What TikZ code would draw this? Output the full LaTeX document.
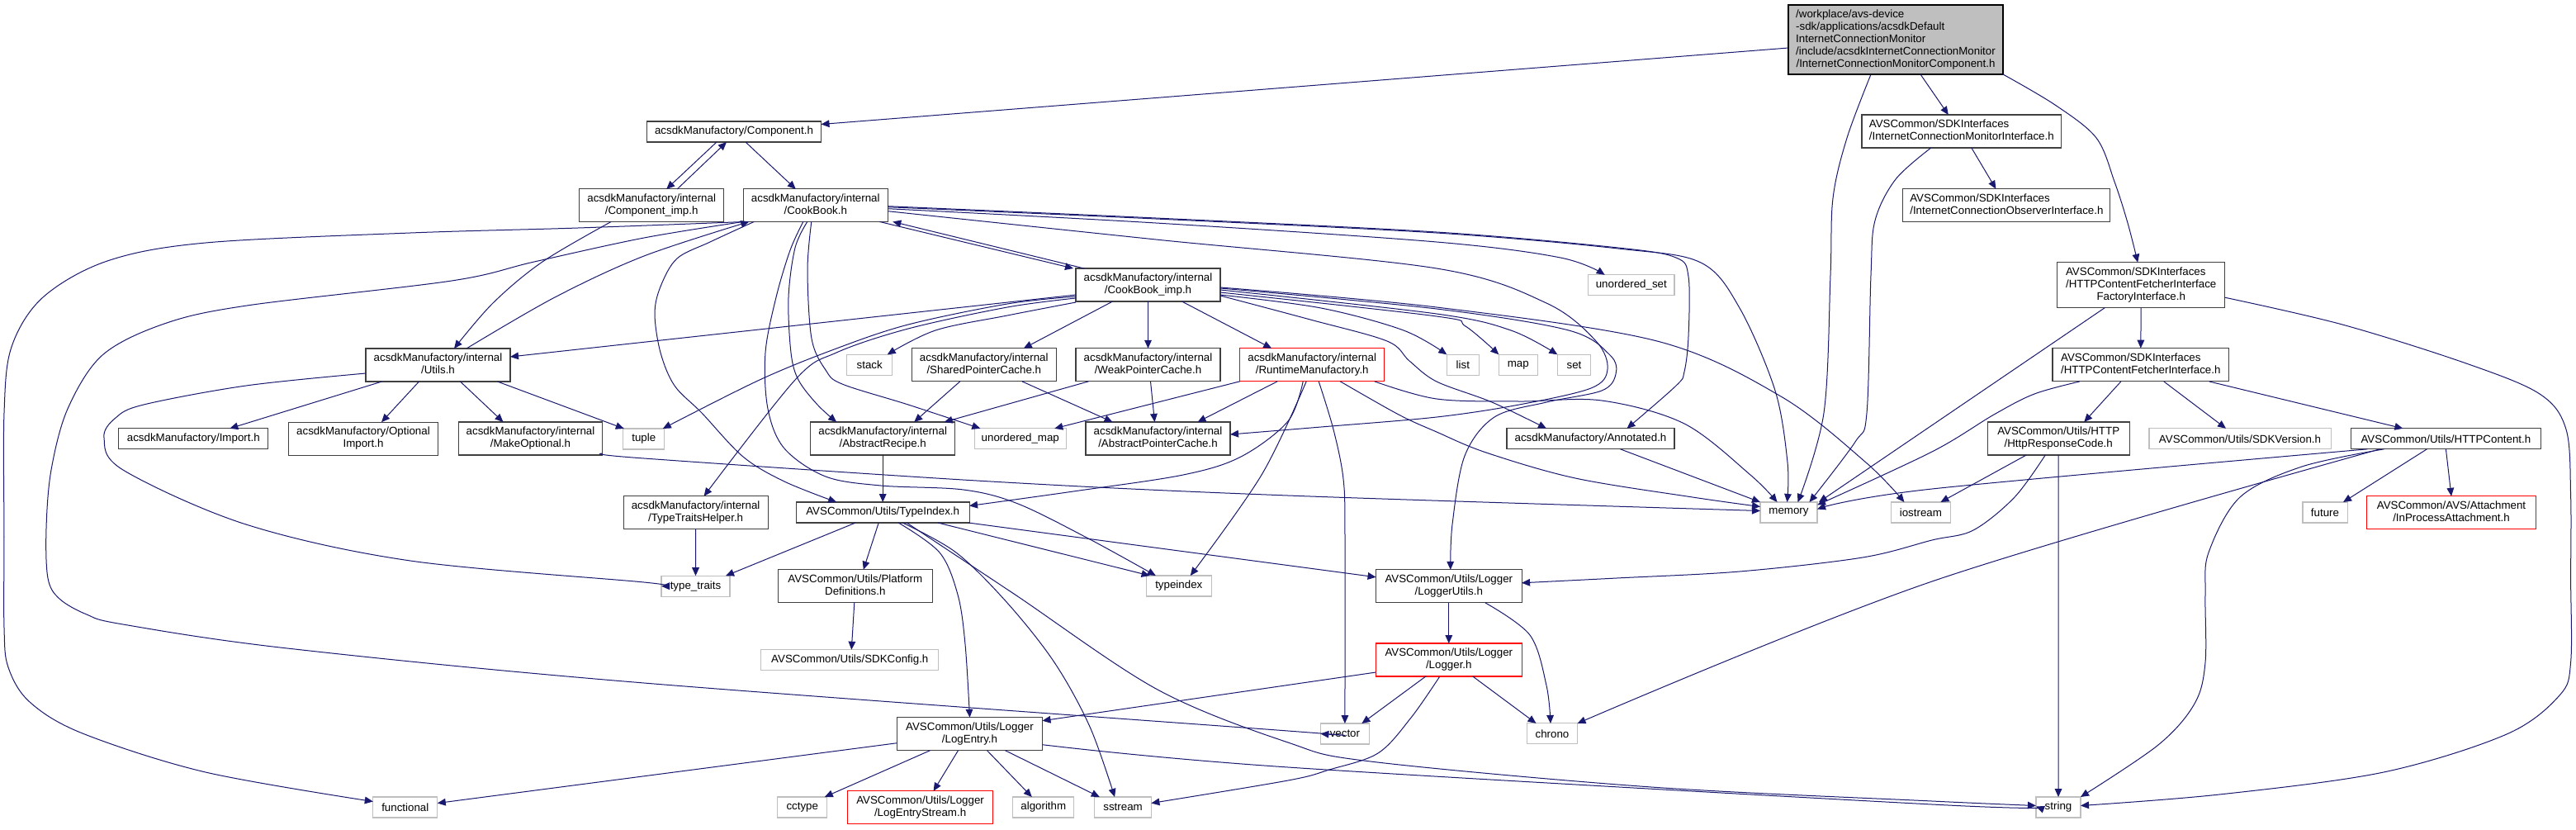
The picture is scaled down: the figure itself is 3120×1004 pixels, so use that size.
\documentclass[tikz,border=0pt]{standalone}
\usepackage{fontspec}
\setmainfont{Liberation Sans}
\usetikzlibrary{arrows.meta,calc}
\definecolor{edgeblue}{HTML}{191970}
\definecolor{lgray}{HTML}{BFBFBF}
\definecolor{dgray}{HTML}{404040}
\newcommand{\ml}[2]{\begin{tabular}{@{}l@{}}#1\\\multicolumn{1}{@{}c@{}}{#2}\end{tabular}}
\begin{document}
\begin{tikzpicture}[x=0.75pt,y=-0.75pt,
  font=\fontsize{10}{11.25}\selectfont,
  box/.style={draw=dgray,line width=0.8pt,fill=white,inner sep=0pt,outer sep=0pt},
  sys/.style={box,draw=lgray},
  trunc/.style={box,draw=red},
  mainbox/.style={box,draw=black,fill=lgray},
  wh/.style 2 args={minimum width=#1*0.75pt,minimum height=#2*0.75pt},
  e/.style={draw=edgeblue,line width=0.75pt,-{Triangle[length=7.5pt,width=6.5pt]}},
  sm/.style={smooth,tension=0.55}]
\fill[white] (0,0) rectangle (3120,1004);
\useasboundingbox (0,0) rectangle (3120,1004);
% nodes
\node[mainbox,wh={260}{84}] (root) at (2296,48) {\ml{/workplace/avs-device\\-sdk/applications/acsdkDefault\\InternetConnectionMonitor\\/include/acsdkInternetConnectionMonitor}{/InternetConnectionMonitorComponent.h}};
\node[box,wh={211}{25}] (comp) at (889,159.5) {acsdkManufactory/Component.h};
\node[box,wh={175}{39.5}] (compimp) at (789.2,248.7) {\ml{acsdkManufactory/internal}{/Component\_imp.h}};
\node[box,wh={175}{39.5}] (cookbook) at (987.8,248.7) {\ml{acsdkManufactory/internal}{/CookBook.h}};
\node[box,wh={175}{40}] (cbi) at (1390.5,345) {\ml{acsdkManufactory/internal}{/CookBook\_imp.h}};
\node[box,wh={241.7}{40}] (icmi) at (2375.8,159) {\ml{AVSCommon/SDKInterfaces}{/InternetConnectionMonitorInterface.h}};
\node[box,wh={251}{39.5}] (icoi) at (2430.4,248.5) {\ml{AVSCommon/SDKInterfaces}{/InternetConnectionObserverInterface.h}};
\node[box,wh={203}{55}] (factory) at (2593.2,345.2) {\ml{AVSCommon/SDKInterfaces\\/HTTPContentFetcherInterface}{FactoryInterface.h}};
\node[box,wh={213.7}{40.3}] (fetcher) at (2592.8,441.8) {\ml{AVSCommon/SDKInterfaces}{/HTTPContentFetcherInterface.h}};
\node[box,wh={175}{40}] (utils) at (530.5,442) {\ml{acsdkManufactory/internal}{/Utils.h}};
\node[sys,wh={55}{25}] (stack) at (1053.2,441.8) {stack};
\node[box,wh={175}{40}] (spc) at (1191.8,441.8) {\ml{acsdkManufactory/internal}{/SharedPointerCache.h}};
\node[box,wh={175}{40}] (wpc) at (1390.5,441.8) {\ml{acsdkManufactory/internal}{/WeakPointerCache.h}};
\node[trunc,wh={175}{40}] (rm) at (1589.2,441.8) {\ml{acsdkManufactory/internal}{/RuntimeManufactory.h}};
\node[sys,wh={39}{25}] (list) at (1771.8,441.8) {list};
\node[sys,wh={47}{25}] (map) at (1838.8,441.8) {map};
\node[sys,wh={40.4}{25}] (set) at (1906.5,441.8) {set};
\node[sys,wh={104.3}{25}] (uset) at (1975.8,345.3) {unordered\_set};
\node[box,wh={181}{25}] (import) at (234.3,531.3) {acsdkManufactory/Import.h};
\node[box,wh={180.5}{40}] (optimport) at (440,531.2) {\ml{acsdkManufactory/Optional}{Import.h}};
\node[box,wh={174.7}{40}] (makeopt) at (642.5,531) {\ml{acsdkManufactory/internal}{/MakeOptional.h}};
\node[sys,wh={50}{25}] (tuple) at (779.8,531.5) {tuple};
\node[box,wh={175}{40}] (ttraitsh) at (842.6,620.8) {\ml{acsdkManufactory/internal}{/TypeTraitsHelper.h}};
\node[box,wh={175}{40}] (arecipe) at (1069.2,531) {\ml{acsdkManufactory/internal}{/AbstractRecipe.h}};
\node[sys,wh={111}{25}] (umap) at (1235.8,531.3) {unordered\_map};
\node[box,wh={175}{40}] (apc) at (1402.5,531) {\ml{acsdkManufactory/internal}{/AbstractPointerCache.h}};
\node[box,wh={203}{25}] (annotated) at (1926.5,531.3) {acsdkManufactory/Annotated.h};
\node[box,wh={209.7}{25}] (typeidx) at (1069.2,620.5) {AVSCommon/Utils/TypeIndex.h};
\node[sys,wh={83}{25}] (ttraits) at (842.5,709.7) {type\_traits};
\node[box,wh={187}{40}] (platdef) at (1035.8,709.7) {\ml{AVSCommon/Utils/Platform}{Definitions.h}};
\node[sys,wh={78.5}{25}] (typeindex) at (1427.8,709.5) {typeindex};
\node[sys,wh={215}{25}] (sdkconfig) at (1029.3,799.2) {AVSCommon/Utils/SDKConfig.h};
\node[sys,wh={69}{25}] (memory) at (2166.5,620.5) {memory};
\node[sys,wh={72}{25}] (iostream) at (2326.4,620.5) {iostream};
\node[box,wh={176.5}{40}] (loggerutils) at (1754.8,709.8) {\ml{AVSCommon/Utils/Logger}{/LoggerUtils.h}};
\node[trunc,wh={176.5}{40}] (logger) at (1754.8,799) {\ml{AVSCommon/Utils/Logger}{/Logger.h}};
\node[sys,wh={59}{25}] (vector) at (1628.9,888.5) {vector};
\node[sys,wh={61}{25}] (chrono) at (1880,888.4) {chrono};
\node[box,wh={176}{40}] (logentry) at (1174.5,888.7) {\ml{AVSCommon/Utils/Logger}{/LogEntry.h}};
\node[sys,wh={60}{25}] (cctype) at (971.8,977.5) {cctype};
\node[trunc,wh={175.6}{40}] (les) at (1114.6,977.8) {\ml{AVSCommon/Utils/Logger}{/LogEntryStream.h}};
\node[sys,wh={74}{25}] (algorithm) at (1263.8,977.5) {algorithm};
\node[sys,wh={68.6}{25}] (sstream) at (1360.1,977.5) {sstream};
\node[sys,wh={78}{25}] (functional) at (490.8,977.5) {functional};
\node[box,wh={172}{40}] (httprc) at (2493.2,531) {\ml{AVSCommon/Utils/HTTP}{/HttpResponseCode.h}};
\node[sys,wh={220}{25}] (sdkversion) at (2713,531.3) {AVSCommon/Utils/SDKVersion.h};
\node[box,wh={230}{25}] (httpcontent) at (2962.4,531.3) {AVSCommon/Utils/HTTPContent.h};
\node[sys,wh={54}{25}] (future) at (2816,620.5) {future};
\node[trunc,wh={204.4}{40}] (inproc) at (2969,620.8) {\ml{AVSCommon/AVS/Attachment}{/InProcessAttachment.h}};
\node[sys,wh={54}{25}] (string) at (2493,977.5) {string};
% root
\draw[e] ($(root.west)+(0,10)$) -- ($(comp.east)+(0,-9)$);
\draw[e] ($(root.south)+(30,0)$) -- ($(icmi.north)+(-16,0)$);
\draw[e] plot[sm] coordinates {(root.south east) (2489,127) (2539,167) (2561,220) (2577,270) ($(factory.north)+(-4,0)$)};
\draw[e] plot[sm] coordinates {($(root.south)+(-30,0)$) (2237,167) (2220,240) (2217,333) (2209,500) ($(memory.north)+(11,0)$)};
% icmi
\draw[e] ($(icmi.south)+(12,0)$) -- ($(icoi.north)+(-13,0)$);
\draw[e] plot[sm] coordinates {($(icmi.south)+(-37,0)$) (2296,217) (2271,267) (2266,333) (2261,500) (2247,535) ($(memory.north)+(25,0)$)};
% factory
\draw[e] (factory.south) -- (fetcher.north);
\draw[e] ($(factory.south)+(-44,0)$) -- ($(memory.north east)+(2,0)$);
\draw[e] plot[sm] coordinates {($(factory.east)+(0,15)$) (2837,393) (2987,440) (3076,477) (3108,520) (3113.6,600) (3113.6,700) (3113.6,802) (3100,842) (3036,889) (2887,935) (2688,962) ($(string.east)+(0,-2)$)};
% fetcher
\draw[e] plot[sm] coordinates {($(fetcher.south)+(-74,0)$) (2464,477) (2415,502) (2340,547) ($(memory.east)+(0,-9)$)};
\draw[e] ($(fetcher.south)+(-24,0)$) -- ($(httprc.north)+(31,0)$);
\draw[e] ($(fetcher.south)+(28,0)$) -- ($(sdkversion.north)+(-17,0)$);
\draw[e] ($(fetcher.south)+(83,0)$) -- ($(httpcontent.north)+(-52,0)$);
% httprc
\draw[e] ($(httprc.south)+(-39,0)$) -- ($(iostream.north)+(24,0)$);
\draw[e] plot[sm] coordinates {($(httprc.south)+(-16,0)$) (2440,602) (2390,642) (2340,654) (2256,675) (2107,692) (1958,700) ($(loggerutils.east)+(0,-4)$)};
\draw[e] (httprc.south) -- (string.north);
% httpcontent
\draw[e] ($(httpcontent.south)+(-23,0)$) -- ($(future.north)+(22,0)$);
\draw[e] (httpcontent.south) -- (inproc.north);
\draw[e] plot[sm] coordinates {($(httpcontent.south)+(-75,0)$) (2788,565) (2713,602) (2675,669) (2671,720) (2671,802) (2658,852) (2614,902) (string.north east)};
\draw[e] plot[sm] coordinates {($(httpcontent.south west)+(20,0)$) (2340,592) ($(memory.east)+(0,-4)$)};
\draw[e] plot[sm] coordinates {($(httpcontent.south west)+(35,0)$) (2340,704) (chrono.north east)};
% component
\draw[e] ($(comp.south)+(-21,0)$) -- ($(compimp.north)+(18,0)$);
\draw[e] ($(compimp.north)+(31,0)$) -- ($(comp.south)+(-9,0)$);
\draw[e] ($(comp.south)+(14,0)$) -- ($(cookbook.north)+(-24,0)$);
\draw[e] plot[sm] coordinates {($(compimp.south)+(-49,0)$) (657,317) (597,367) ($(utils.north)+(19.5,0)$)};
\draw[e] plot[sm] coordinates {($(utils.north)+(34.5,0)$) (672,360) (780,310) ($(cookbook.south west)+(7,0)$)};
% cookbook
\draw[e] ($(cookbook.south east)+(-10,0)$) -- ($(cbi.north west)+(-3,0)$);
\draw[e] ($(cbi.north west)+(10,0)$) -- ($(cookbook.south east)+(6,0)$);
\draw[e] plot[sm] coordinates {($(cookbook.south west)+(2,0)$) (700,276) (497,282) (249,294) (130,316) (52,360) (14,420) (5,500) (5,650) (5,760) (10,808) (36,850) (100,888) (249,935) ($(functional.west)+(0,-7)$)};
\draw[e] plot[sm] coordinates {(cookbook.south west) (780,288) (647,317) (547,340) (299,370) (199,392) (124,430) (82,495) (62,569) (56,640) (58,700) (72,725) (105,744) (149,756) (348,785) (780,827) (1560,885) (vector.west)};
\draw[e] plot[sm] coordinates {($(cookbook.south west)+(13,0)$) (860,293) (820,313) (800,347) (793,380) (800,427) (817,467) (850,500) (900,553) (950,583) ($(typeidx.north)+(-56,0)$)};
\draw[e] plot[sm] coordinates {($(cookbook.south)+(-15,0)$) (957,303) (940,360) (927,427) (930,495) (950,543) (1000,577) (1067,588) (1167,593) (1233,610) (1320,653) ($(typeindex.north)+(-28,0)$)};
\draw[e] plot[sm] coordinates {($(cookbook.south)+(-10,0)$) (963,300) (955,360) (958,427) (967,460) (990,490) ($(arecipe.north)+(-56,0)$)};
\draw[e] plot[sm] coordinates {($(cookbook.south)+(-5,0)$) (978,327) (983,410) (1000,448) (1020,465) (1100,490) ($(umap.north west)+(7,0)$)};
\draw[e] plot[sm] coordinates {($(cookbook.east)+(0,1)$) (1400,264) (1740,281) (1960,300) (2030,312) (2045,335) (2045,407) (2040,450) (2030,467) ($(annotated.north)+(44,0)$)};
\draw[e] plot[sm] coordinates {($(cookbook.east)+(0,2)$) (1400,265) (1740,282) (1960,301) (2060,318) (2107,373) (2150,473) (2165,560) ($(memory.north)+(-2,0)$)};
\draw[e] plot[sm] coordinates {($(cookbook.east)+(0,4)$) (1400,270) (1740,293) (1890,312) ($(uset.north west)+(20,0)$)};
\draw[e] plot[sm] coordinates {($(cookbook.east)+(0,7)$) (1400,290) (1740,325) (1873,367) (1933,413) (1947,447) (1927,470) (1840,490) (1740,505) (1600,517) ($(apc.east)+(0,-5)$)};
% cookbook_imp
\draw[e] ($(cbi.west)+(0,12)$) -- ($(utils.east)+(0,-10)$);
\draw[e] plot[sm] coordinates {($(cbi.west)+(0,14)$) (1220,368) (1100,393) (1013,422) (920,460) ($(tuple.north east)+(-2,0)$)};
\draw[e] plot[sm] coordinates {($(cbi.west)+(0,16)$) (1220,372) (1100,398) (1013,427) (963,460) ($(ttraitsh.north)+(10,0)$)};
\draw[e] plot[sm] coordinates {($(cbi.west)+(0,21)$) (1220,382) (1133,400) ($(stack.north east)+(-6,0)$)};
\draw[e] ($(cbi.south)+(-43,0)$) -- ($(spc.north)+(48,0)$);
\draw[e] (cbi.south) -- (wpc.north);
\draw[e] ($(cbi.south)+(41,0)$) -- ($(rm.north)+(-49,0)$);
\draw[e] plot[sm] coordinates {($(cbi.east)+(0,12)$) (1600,373) (1700,400) (list.north west)};
\draw[e] plot[sm] coordinates {($(cbi.east)+(0,9)$) (1740,383) (1775,395) (map.north west)};
\draw[e] plot[sm] coordinates {($(cbi.east)+(0,6)$) (1740,380) (1830,400) (set.north west)};
\draw[e] plot[sm] coordinates {($(cbi.east)+(0,3)$) (1740,372) (2007,413) (2157,480) (2260,560) ($(iostream.north)+(-20,0)$)};
\draw[e] plot[sm] coordinates {($(cbi.east)+(0,4)$) (1740,374) (1900,400) (1950,430) (1957,453) (1940,473) (1873,487) (1810,505) (1774,552) (1759,635) ($(loggerutils.north)+(2,0)$)};
\draw[e] plot[sm] coordinates {($(cbi.east)+(0,13)$) (1587,387) (1680,413) (1707,437) (1740,462) (1807,487) ($(annotated.north west)+(48,0)$)};
% pointer caches
\draw[e] ($(spc.south)+(-29,0)$) -- ($(arecipe.north)+(38,0)$);
\draw[e] ($(spc.south)+(46,0)$) -- ($(apc.north)+(-55,0)$);
\draw[e] ($(wpc.south)+(-72,0)$) -- ($(arecipe.north east)+(-13,0)$);
\draw[e] ($(wpc.south)+(3,0)$) -- ($(apc.north)+(-4,0)$);
% runtime manufactory
\draw[e] (rm.south west) -- ($(umap.north east)+(-14,0)$);
\draw[e] ($(rm.south)+(-42,0)$) -- ($(apc.north)+(48,0)$);
\draw[e] plot[sm] coordinates {($(rm.south)+(-11,0)$) (1560,510) (1503,553) (1433,575) (1300,595) ($(typeidx.east)+(0,-8)$)};
\draw[e] plot[sm] coordinates {($(rm.south)+(-7,0)$) (1528,575) ($(typeindex.north)+(14,0)$)};
\draw[e] plot[sm] coordinates {($(rm.south)+(8,0)$) (1615,520) (1627,580) (1629,650) (vector.north)};
\draw[e] plot[sm] coordinates {($(rm.south)+(34,0)$) (1694,502) (1740,523) (1800,548) (1908,579) (2050,602) ($(memory.west)+(0,-7)$)};
\draw[e] plot[sm] coordinates {($(rm.south east)+(-12,0)$) (1740,483) (1840,486) (1940,485) (2040,513) (2120,575) ($(memory.north)+(-14,0)$)};
% annotated, makeoptional
\draw[e] ($(annotated.south)+(36,0)$) -- (memory.north west);
\draw[e] plot[sm] coordinates {($(makeopt.south east)+(0,-2)$) (780,555) (1200,583) (1560,600) ($(memory.west)+(0,-2)$)};
% utils
\draw[e] ($(utils.south)+(-68,0)$) -- ($(import.north)+(44,0)$);
\draw[e] ($(utils.south)+(-23,0)$) -- ($(optimport.north)+(22,0)$);
\draw[e] ($(utils.south)+(27,0)$) -- ($(makeopt.north)+(-33,0)$);
\draw[e] ($(utils.south)+(72,0)$) -- ($(tuple.north west)+(1,0)$);
\draw[e] plot[sm] coordinates {($(utils.west)+(0,10)$) (298,467) (174,490) (140,506) (126,530) (149,569) (298,635) (497,679) (780,705) (ttraits.west)};
\draw[e] (ttraitsh.south) -- (ttraits.north);
\draw[e] (arecipe.south) -- (typeidx.north);
% typeindex.h
\draw[e] ($(typeidx.south)+(-33,0)$) -- ($(ttraits.north east)+(-5,0)$);
\draw[e] ($(typeidx.south)+(-5,0)$) -- ($(platdef.north)+(10,0)$);
\draw[e] plot[sm] coordinates {($(typeidx.south)+(19,0)$) (1138,669) (1160,720) (1169,780) (logentry.north)};
\draw[e] plot[sm] coordinates {($(typeidx.south)+(24,0)$) (1158,669) (1220,730) (1277,802) (1320,880) ($(sstream.north)+(-10,0)$)};
\draw[e] plot[sm] coordinates {($(typeidx.south)+(29,0)$) (1228,719) (1402,835) (1560,899) (1660,922) (2000,953) (2340,970) ($(string.west)+(0,-2)$)};
\draw[e] ($(typeidx.south east)+(-38,0)$) -- ($(typeindex.north west)+(4,0)$);
\draw[e] ($(typeidx.south east)+(-1,0)$) -- ($(loggerutils.west)+(0,-11)$);
\draw[e] ($(platdef.south)+(-1,0)$) -- ($(sdkconfig.north)+(2,0)$);
% logger
\draw[e] (loggerutils.south) -- (logger.north);
\draw[e] plot[sm] coordinates {($(loggerutils.south)+(44,0)$) (1853,769) (1873,830) ($(chrono.north)+(-2,0)$)};
\draw[e] ($(logger.west)+(0,15)$) -- ($(logentry.east)+(0,-16)$);
\draw[e] ($(logger.south)+(-28,0)$) -- ($(vector.north east)+(-9,0)$);
\draw[e] ($(logger.south)+(29,0)$) -- ($(chrono.north west)+(11,0)$);
\draw[e] plot[sm] coordinates {($(logger.south)+(-11,0)$) (1709,869) (1669,912) (1610,932) (1560,945) ($(sstream.east)+(0,-5)$)};
% logentry
\draw[e] ($(logentry.west)+(0,11)$) -- ($(functional.east)+(0,-5)$);
\draw[e] ($(logentry.south)+(-48,0)$) -- ($(cctype.north east)+(-3,0)$);
\draw[e] ($(logentry.south)+(-14,0)$) -- ($(les.north)+(16,0)$);
\draw[e] ($(logentry.south)+(21,0)$) -- ($(algorithm.north)+(-14,0)$);
\draw[e] ($(logentry.south)+(43,0)$) -- ($(sstream.north west)+(6,0)$);
\draw[e] plot[sm] coordinates {($(logentry.east)+(0,13)$) (1560,929) (2340,974) ($(string.west)+(0,-1)$)};
\end{tikzpicture}
\end{document}
